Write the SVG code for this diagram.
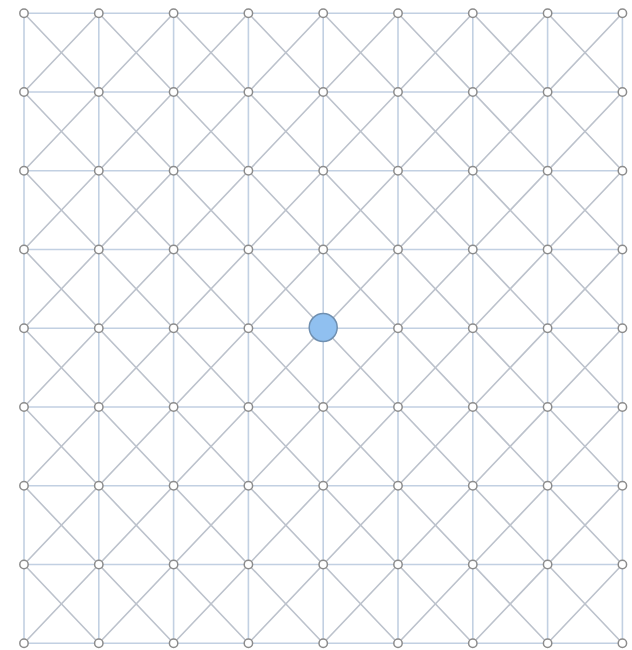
<svg xmlns="http://www.w3.org/2000/svg" width="632" height="650" viewBox="0 0 632 650">
<style>
.grid{fill:none;stroke:#c2d0e2;stroke-width:1.6}
.diag{fill:none;stroke:#bcc2cc;stroke-width:1.6}
.n circle{fill:#ffffff;stroke:#8c8c8c;stroke-width:1.5}
#n4_4 circle{fill:#90c0f0;stroke:#6f8fb0;stroke-width:1.5}
</style>
<rect width="632" height="650" fill="#ffffff"/>
<g id="connectors">
<path class="grid" d="M24 13.3H622.4M24 92.05H622.4M24 170.8H622.4M24 249.55H622.4M24 328.3H622.4M24 407.05H622.4M24 485.8H622.4M24 564.55H622.4M24 643.3H622.4M24 13.3V643.3M98.8 13.3V643.3M173.6 13.3V643.3M248.4 13.3V643.3M323.2 13.3V643.3M398 13.3V643.3M472.8 13.3V643.3M547.6 13.3V643.3M622.4 13.3V643.3"/>
<path class="diag" d="M24 13.3L622.4 643.3M98.8 13.3L622.4 564.55M173.6 13.3L622.4 485.8M248.4 13.3L622.4 407.05M323.2 13.3L622.4 328.3M398 13.3L622.4 249.55M472.8 13.3L622.4 170.8M547.6 13.3L622.4 92.05M24 92.05L547.6 643.3M24 170.8L472.8 643.3M24 249.55L398 643.3M24 328.3L323.2 643.3M24 407.05L248.4 643.3M24 485.8L173.6 643.3M24 564.55L98.8 643.3"/>
<path class="diag" d="M98.8 13.3L24 92.05M173.6 13.3L24 170.8M248.4 13.3L24 249.55M323.2 13.3L24 328.3M398 13.3L24 407.05M472.8 13.3L24 485.8M547.6 13.3L24 564.55M622.4 13.3L24 643.3M622.4 92.05L98.8 643.3M622.4 170.8L173.6 643.3M622.4 249.55L248.4 643.3M622.4 328.3L323.2 643.3M622.4 407.05L398 643.3M622.4 485.8L472.8 643.3M622.4 564.55L547.6 643.3"/>
</g>
<g id="nodes">
<g id="n0_0" class="n"><circle cx="24" cy="13.3" r="4.2"/></g>
<g id="n0_1" class="n"><circle cx="98.8" cy="13.3" r="4.2"/></g>
<g id="n0_2" class="n"><circle cx="173.6" cy="13.3" r="4.2"/></g>
<g id="n0_3" class="n"><circle cx="248.4" cy="13.3" r="4.2"/></g>
<g id="n0_4" class="n"><circle cx="323.2" cy="13.3" r="4.2"/></g>
<g id="n0_5" class="n"><circle cx="398" cy="13.3" r="4.2"/></g>
<g id="n0_6" class="n"><circle cx="472.8" cy="13.3" r="4.2"/></g>
<g id="n0_7" class="n"><circle cx="547.6" cy="13.3" r="4.2"/></g>
<g id="n0_8" class="n"><circle cx="622.4" cy="13.3" r="4.2"/></g>
<g id="n1_0" class="n"><circle cx="24" cy="92.05" r="4.2"/></g>
<g id="n1_1" class="n"><circle cx="98.8" cy="92.05" r="4.2"/></g>
<g id="n1_2" class="n"><circle cx="173.6" cy="92.05" r="4.2"/></g>
<g id="n1_3" class="n"><circle cx="248.4" cy="92.05" r="4.2"/></g>
<g id="n1_4" class="n"><circle cx="323.2" cy="92.05" r="4.2"/></g>
<g id="n1_5" class="n"><circle cx="398" cy="92.05" r="4.2"/></g>
<g id="n1_6" class="n"><circle cx="472.8" cy="92.05" r="4.2"/></g>
<g id="n1_7" class="n"><circle cx="547.6" cy="92.05" r="4.2"/></g>
<g id="n1_8" class="n"><circle cx="622.4" cy="92.05" r="4.2"/></g>
<g id="n2_0" class="n"><circle cx="24" cy="170.8" r="4.2"/></g>
<g id="n2_1" class="n"><circle cx="98.8" cy="170.8" r="4.2"/></g>
<g id="n2_2" class="n"><circle cx="173.6" cy="170.8" r="4.2"/></g>
<g id="n2_3" class="n"><circle cx="248.4" cy="170.8" r="4.2"/></g>
<g id="n2_4" class="n"><circle cx="323.2" cy="170.8" r="4.2"/></g>
<g id="n2_5" class="n"><circle cx="398" cy="170.8" r="4.2"/></g>
<g id="n2_6" class="n"><circle cx="472.8" cy="170.8" r="4.2"/></g>
<g id="n2_7" class="n"><circle cx="547.6" cy="170.8" r="4.2"/></g>
<g id="n2_8" class="n"><circle cx="622.4" cy="170.8" r="4.2"/></g>
<g id="n3_0" class="n"><circle cx="24" cy="249.55" r="4.2"/></g>
<g id="n3_1" class="n"><circle cx="98.8" cy="249.55" r="4.2"/></g>
<g id="n3_2" class="n"><circle cx="173.6" cy="249.55" r="4.2"/></g>
<g id="n3_3" class="n"><circle cx="248.4" cy="249.55" r="4.2"/></g>
<g id="n3_4" class="n"><circle cx="323.2" cy="249.55" r="4.2"/></g>
<g id="n3_5" class="n"><circle cx="398" cy="249.55" r="4.2"/></g>
<g id="n3_6" class="n"><circle cx="472.8" cy="249.55" r="4.2"/></g>
<g id="n3_7" class="n"><circle cx="547.6" cy="249.55" r="4.2"/></g>
<g id="n3_8" class="n"><circle cx="622.4" cy="249.55" r="4.2"/></g>
<g id="n4_0" class="n"><circle cx="24" cy="328.3" r="4.2"/></g>
<g id="n4_1" class="n"><circle cx="98.8" cy="328.3" r="4.2"/></g>
<g id="n4_2" class="n"><circle cx="173.6" cy="328.3" r="4.2"/></g>
<g id="n4_3" class="n"><circle cx="248.4" cy="328.3" r="4.2"/></g>
<g id="n4_4"><circle cx="323.2" cy="327.5" r="14"/></g>
<g id="n4_5" class="n"><circle cx="398" cy="328.3" r="4.2"/></g>
<g id="n4_6" class="n"><circle cx="472.8" cy="328.3" r="4.2"/></g>
<g id="n4_7" class="n"><circle cx="547.6" cy="328.3" r="4.2"/></g>
<g id="n4_8" class="n"><circle cx="622.4" cy="328.3" r="4.2"/></g>
<g id="n5_0" class="n"><circle cx="24" cy="407.05" r="4.2"/></g>
<g id="n5_1" class="n"><circle cx="98.8" cy="407.05" r="4.2"/></g>
<g id="n5_2" class="n"><circle cx="173.6" cy="407.05" r="4.2"/></g>
<g id="n5_3" class="n"><circle cx="248.4" cy="407.05" r="4.2"/></g>
<g id="n5_4" class="n"><circle cx="323.2" cy="407.05" r="4.2"/></g>
<g id="n5_5" class="n"><circle cx="398" cy="407.05" r="4.2"/></g>
<g id="n5_6" class="n"><circle cx="472.8" cy="407.05" r="4.2"/></g>
<g id="n5_7" class="n"><circle cx="547.6" cy="407.05" r="4.2"/></g>
<g id="n5_8" class="n"><circle cx="622.4" cy="407.05" r="4.2"/></g>
<g id="n6_0" class="n"><circle cx="24" cy="485.8" r="4.2"/></g>
<g id="n6_1" class="n"><circle cx="98.8" cy="485.8" r="4.2"/></g>
<g id="n6_2" class="n"><circle cx="173.6" cy="485.8" r="4.2"/></g>
<g id="n6_3" class="n"><circle cx="248.4" cy="485.8" r="4.2"/></g>
<g id="n6_4" class="n"><circle cx="323.2" cy="485.8" r="4.2"/></g>
<g id="n6_5" class="n"><circle cx="398" cy="485.8" r="4.2"/></g>
<g id="n6_6" class="n"><circle cx="472.8" cy="485.8" r="4.2"/></g>
<g id="n6_7" class="n"><circle cx="547.6" cy="485.8" r="4.2"/></g>
<g id="n6_8" class="n"><circle cx="622.4" cy="485.8" r="4.2"/></g>
<g id="n7_0" class="n"><circle cx="24" cy="564.55" r="4.2"/></g>
<g id="n7_1" class="n"><circle cx="98.8" cy="564.55" r="4.2"/></g>
<g id="n7_2" class="n"><circle cx="173.6" cy="564.55" r="4.2"/></g>
<g id="n7_3" class="n"><circle cx="248.4" cy="564.55" r="4.2"/></g>
<g id="n7_4" class="n"><circle cx="323.2" cy="564.55" r="4.2"/></g>
<g id="n7_5" class="n"><circle cx="398" cy="564.55" r="4.2"/></g>
<g id="n7_6" class="n"><circle cx="472.8" cy="564.55" r="4.2"/></g>
<g id="n7_7" class="n"><circle cx="547.6" cy="564.55" r="4.2"/></g>
<g id="n7_8" class="n"><circle cx="622.4" cy="564.55" r="4.2"/></g>
<g id="n8_0" class="n"><circle cx="24" cy="643.3" r="4.2"/></g>
<g id="n8_1" class="n"><circle cx="98.8" cy="643.3" r="4.2"/></g>
<g id="n8_2" class="n"><circle cx="173.6" cy="643.3" r="4.2"/></g>
<g id="n8_3" class="n"><circle cx="248.4" cy="643.3" r="4.2"/></g>
<g id="n8_4" class="n"><circle cx="323.2" cy="643.3" r="4.2"/></g>
<g id="n8_5" class="n"><circle cx="398" cy="643.3" r="4.2"/></g>
<g id="n8_6" class="n"><circle cx="472.8" cy="643.3" r="4.2"/></g>
<g id="n8_7" class="n"><circle cx="547.6" cy="643.3" r="4.2"/></g>
<g id="n8_8" class="n"><circle cx="622.4" cy="643.3" r="4.2"/></g>
</g>
</svg>
